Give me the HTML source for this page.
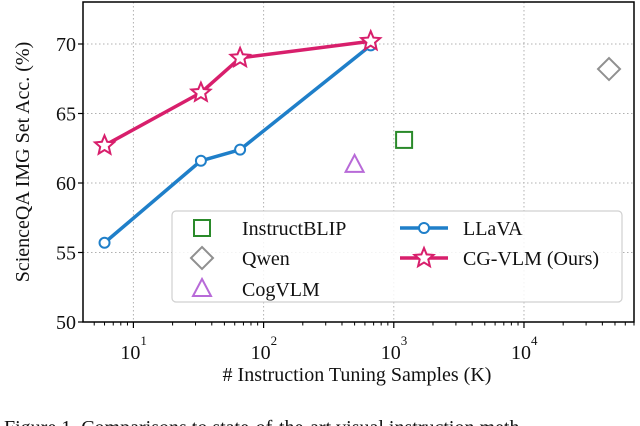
<!DOCTYPE html>
<html><head><meta charset="utf-8">
<style>
body{margin:0;background:#fff;width:640px;height:426px;overflow:hidden;font-family:"Liberation Serif",serif;}
svg{display:block}
text{font-family:"Liberation Serif",serif;fill:#111}
</style></head>
<body>
<svg id="chart" width="640" height="426">
<g id="grid"></g>
<g id="series"></g>
<g id="axes"></g>
<g id="legend"></g>
<text x="357" y="381" font-size="20" text-anchor="middle"># Instruction Tuning Samples (K)</text>
<text transform="translate(29,162) rotate(-90)" font-size="20" text-anchor="middle">ScienceQA IMG Set Acc. (%)</text>
<text x="4" y="434" font-size="20">Figure 1. Comparisons to state-of-the-art visual instruction meth</text>
</svg>
<script>
const llavaX=[6,33,66,665];
const llavaY=[55.7,61.6,62.4,69.9];
const cgX=[6,33,66,665];
const cgY=[62.7,66.5,69.0,70.2];
const instructblipPt=[1200,63.1];
const qwenPt=[45000,68.2];
const cogvlmPt=[500,61.3];
const yTicks=[50,55,60,65,70];
const xDecades=[1,2,3,4];

const L=83,R=634,T=2,B=322;
const xmin=Math.log10(4.1),xmax=Math.log10(70000);
const X=v=>L+(Math.log10(v)-xmin)/(xmax-xmin)*(R-L);
const Y=v=>B-(v-50)/(70-50)*(B-44);
const NS="http://www.w3.org/2000/svg";
function mk(p,t,a){const e=document.createElementNS(NS,t);for(const k in a)e.setAttribute(k,a[k]);p.appendChild(e);return e;}
const grid=document.getElementById('grid'),axes=document.getElementById('axes'),ser=document.getElementById('series'),leg=document.getElementById('legend');

yTicks.forEach(v=>{
 const g=mk(grid,'line',{x1:L,x2:R,y1:Y(v),y2:Y(v),stroke:'#b0b0b0','stroke-dasharray':'1.5,2.5','stroke-width':1});
 
 
 mk(axes,'line',{x1:L-5,x2:L,y1:Y(v),y2:Y(v),stroke:'#000','stroke-width':1.2});
 const t=mk(axes,'text',{x:L-7,y:Y(v)+7,'font-size':20,'text-anchor':'end'});t.textContent=v;
 
 
});
xDecades.forEach(d=>{
 const x=X(Math.pow(10,d));
 const g=mk(grid,'line',{x1:x,x2:x,y1:T,y2:B,stroke:'#b0b0b0','stroke-dasharray':'1.5,2.5','stroke-width':1});
 
 
 mk(axes,'line',{x1:x,x2:x,y1:B,y2:B+6,stroke:'#000','stroke-width':1.2});
 const t=mk(axes,'text',{x:x-3,y:B+37,'font-size':20,'text-anchor':'middle'});t.textContent='10';
 
 
 const s=mk(axes,'text',{x:x+7,y:B+23,'font-size':13});s.textContent=d;
});
for(let d=0;d<=4;d++)for(let m=2;m<=9;m++){const v=m*Math.pow(10,d);const x=X(v);if(x<L||x>R)continue;
 mk(axes,'line',{x1:x,x2:x,y1:B,y2:B+3.5,stroke:'#000','stroke-width':1});}
const fr=mk(axes,'rect',{x:L,y:T,width:R-L,height:B-T,fill:'none',stroke:'#000','stroke-width':1.5});



function star(cx,cy,r){let p=[];for(let i=0;i<10;i++){const a=-Math.PI/2+i*Math.PI/5;const rr=i%2?r*0.45:r;p.push((cx+rr*Math.cos(a)).toFixed(1)+','+(cy+rr*Math.sin(a)).toFixed(1));}return p.join(' ');}
function line(xs,ys,col,name){const p=mk(ser,'polyline',{points:xs.map((x,i)=>X(x)+','+Y(ys[i])).join(' '),fill:'none',stroke:col,'stroke-width':3.5,'stroke-linejoin':'round'});
 
 }
line(llavaX,llavaY,'#1f7fc9','llava-line');
llavaX.forEach((x,i)=>{const c=mk(ser,'circle',{cx:X(x),cy:Y(llavaY[i]),r:5,fill:'#fff',stroke:'#1f7fc9','stroke-width':2});
 
 });
line(cgX,cgY,'#d81f6c','cgvlm-line');
cgX.forEach((x,i)=>{const s=mk(ser,'polygon',{points:star(X(x),Y(cgY[i]),10),fill:'#fff',stroke:'#d81f6c','stroke-width':2});
 
 });
function sq(cx,cy,p){return mk(p,'rect',{x:cx-8,y:cy-8,width:16,height:16,fill:'none',stroke:'#2a8a2a','stroke-width':2});}
function dia(cx,cy,p){return mk(p,'polygon',{points:`${cx},${cy-11} ${cx+11},${cy} ${cx},${cy+11} ${cx-11},${cy}`,fill:'none',stroke:'#909090','stroke-width':2});}
function tri(cx,cy,p){return mk(p,'polygon',{points:`${cx},${cy-10} ${cx+9},${cy+7} ${cx-9},${cy+7}`,fill:'none',stroke:'#b86ad8','stroke-width':2});}
let m=sq(X(instructblipPt[0]),Y(instructblipPt[1]),ser);


m=dia(X(qwenPt[0]),Y(qwenPt[1]),ser);


m=tri(X(cogvlmPt[0]),Y(cogvlmPt[1]),ser);



// legend
const lb=mk(leg,'rect',{x:172,y:211,width:450,height:91,rx:4,fill:'#fff','fill-opacity':0.85,stroke:'#d0d0d0','stroke-width':1.2});


function ltext(x,y,s){const t=mk(leg,'text',{x:x,y:y+7,'font-size':20});t.textContent=s;
 
 }
sq(202,228,leg);ltext(242,228,'InstructBLIP');
dia(202,258,leg);ltext(242,258,'Qwen');
tri(202,289,leg);ltext(242,289,'CogVLM');
mk(leg,'line',{x1:400,x2:448,y1:228,y2:228,stroke:'#1f7fc9','stroke-width':3.5});
mk(leg,'circle',{cx:424,cy:228,r:5,fill:'#fff',stroke:'#1f7fc9','stroke-width':2});
ltext(463,228,'LLaVA');
mk(leg,'line',{x1:400,x2:448,y1:258,y2:258,stroke:'#d81f6c','stroke-width':3.5});
mk(leg,'polygon',{points:star(424,258,10),fill:'#fff',stroke:'#d81f6c','stroke-width':2});
ltext(463,258,'CG-VLM (Ours)');
</script>
</body></html>
